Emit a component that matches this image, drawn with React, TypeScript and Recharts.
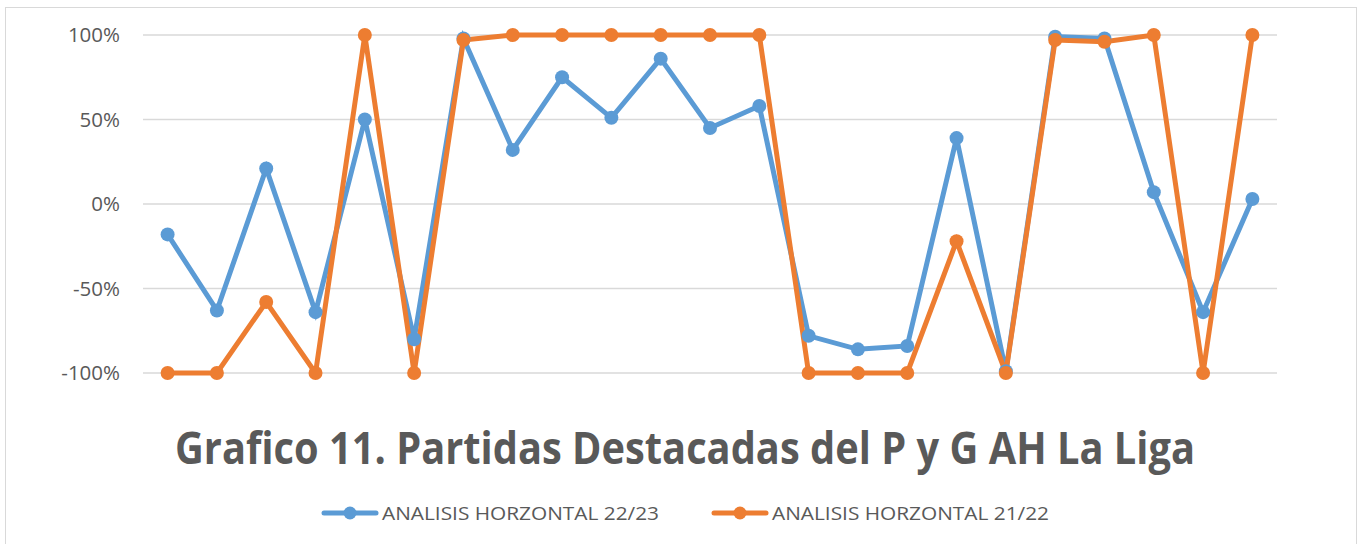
import { LineChart, Line, XAxis, YAxis, CartesianGrid } from 'recharts';

const categories = [
  'P1', 'P2', 'P3', 'P4', 'P5', 'P6', 'P7', 'P8', 'P9', 'P10', 'P11', 'P12',
  'P13', 'P14', 'P15', 'P16', 'P17', 'P18', 'P19', 'P20', 'P21', 'P22', 'P23',
];
const horizontal2223 = [
  -18, -63, 21, -64, 50, -80, 98, 32, 75, 51, 86, 45, 58, -78, -86, -84, 39, -99, 99, 98, 7, -64, 3,
];
const horizontal2122 = [
  -100, -100, -58, -100, 100, -100, 97, 100, 100, 100, 100, 100, 100, -100, -100, -100, -22, -100, 97, 96, 100, -100, 100,
];
const yTicks = [-100, -50, 0, 50, 100];
const seriesNames = ['ANALISIS HORZONTAL 22/23', 'ANALISIS HORZONTAL 21/22'];

const BLUE = '#5B9BD5';
const ORANGE = '#ED7D31';
const TEXT = '#595959';
const FONT = '"Open Sans", "Noto Sans", sans-serif';

const data = categories.map((c, i) => ({ c, a: horizontal2223[i], b: horizontal2122[i] }));

function LegendItem({ x, color, label }: { x: number; color: string; label: string }) {
  return (
    <g>
      <line x1={x + 2} y1={513} x2={x + 54} y2={513} stroke={color} strokeWidth={5} strokeLinecap="round" />
      <circle cx={x + 28} cy={513} r={6.5} fill={color} />
      <text
        x={x + 60}
        y={520}
        fill={TEXT}
        fontFamily={FONT}
        fontSize={19}
        textLength={277}
        lengthAdjust="spacingAndGlyphs"
      >
        {label}
      </text>
    </g>
  );
}

export default function App() {
  return (
    <div style={{ position: 'absolute', left: 0, top: 0, width: 1362, height: 544, background: '#fff' }}>
      <div
        style={{
          position: 'absolute', left: 5, top: 7, width: 1352, height: 545,
          border: '1px solid #d9d9d9', boxSizing: 'border-box',
        }}
      />
      <div style={{ position: 'absolute', left: 0, top: 0 }}>
        <LineChart width={1362} height={544} data={data} margin={{ top: 35, right: 85, bottom: 171, left: 0 }}>
          <CartesianGrid vertical={false} stroke="#d9d9d9" strokeWidth={1.5} />
          <XAxis dataKey="c" hide padding={{ left: 24.6, right: 24.6 }} />
          <YAxis
            width={143}
            domain={[-100, 100]}
            ticks={yTicks}
            tickFormatter={(v) => `${v}%`}
            axisLine={false}
            tickLine={false}
            tickSize={0}
            tickMargin={23}
            tick={{ fill: TEXT, fontSize: 20.5, fontFamily: FONT }}
          />
          <Line
            dataKey="a"
            stroke={BLUE}
            strokeWidth={5}
            dot={{ r: 7, fill: BLUE, stroke: BLUE, strokeWidth: 0 }}
            isAnimationActive={false}
          />
          <Line
            dataKey="b"
            stroke={ORANGE}
            strokeWidth={5}
            dot={{ r: 7, fill: ORANGE, stroke: ORANGE, strokeWidth: 0 }}
            isAnimationActive={false}
          />
        </LineChart>
      </div>
      <svg style={{ position: 'absolute', left: 0, top: 0 }} width={1362} height={544}>
        <text
          x={685}
          y={464}
          textAnchor="middle"
          fill={TEXT}
          fontFamily={FONT}
          fontWeight={700}
          fontSize={44}
          textLength={1020}
          lengthAdjust="spacingAndGlyphs"
        >
          Grafico 11. Partidas Destacadas del P y G AH La Liga
        </text>
        <LegendItem x={322} color={BLUE} label={seriesNames[0]} />
        <LegendItem x={712} color={ORANGE} label={seriesNames[1]} />
      </svg>
    </div>
  );
}
